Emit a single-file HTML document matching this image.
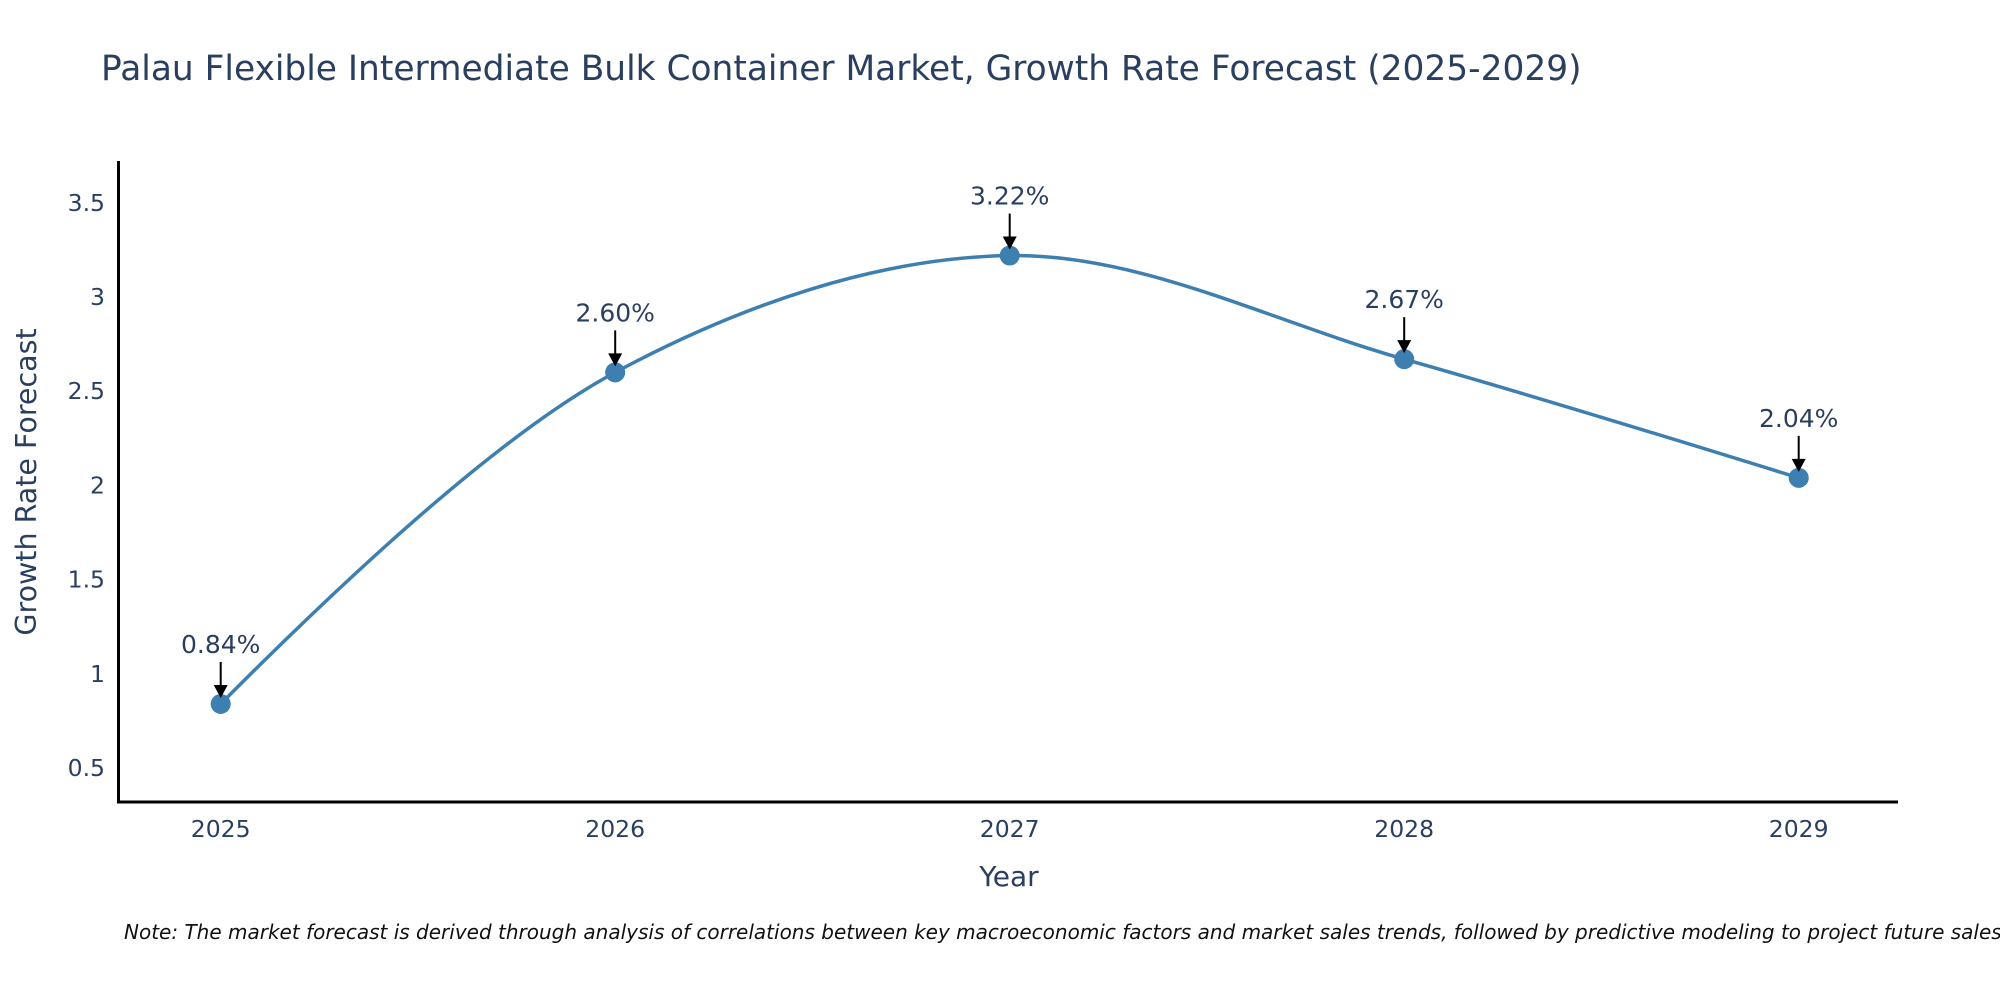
<!DOCTYPE html>
<html><head><meta charset="utf-8"><style>
body{margin:0;background:#fff}
svg text{font-family:"DejaVu Sans","Liberation Sans",sans-serif;fill:#2a3f5f}
</style></head><body>
<svg width="2000" height="1000" id="chart">
<text x="101" y="80" font-size="34.4">Palau Flexible Intermediate Bulk Container Market, Growth Rate Forecast (2025-2029)</text>
<text x="1009" y="886" font-size="28" text-anchor="middle">Year</text>
<text transform="translate(36,482) rotate(-90)" font-size="28.5" text-anchor="middle">Growth Rate Forecast</text>
<text x="124" y="939" font-size="20" font-style="italic" style="fill:#111">Note: The market forecast is derived through analysis of correlations between key macroeconomic factors and market sales trends, followed by predictive modeling to project future sales.</text>
<g id="ticks"></g>
<g id="plot"></g>
<line x1="118.5" y1="161" x2="118.5" y2="802" stroke="#000" stroke-width="3"/>
<line x1="117" y1="802" x2="1898" y2="802" stroke="#000" stroke-width="3"/>
</svg>
<script>
const years=[2025,2026,2027,2028,2029];
const values=[0.84,2.60,3.22,2.67,2.04];
const labels=["0.84%","2.60%","3.22%","2.67%","2.04%"];
const yTicks=[0.5,1,1.5,2,2.5,3,3.5];
const yTickLabels=["0.5","1","1.5","2","2.5","3","3.5"];
const NS="http://www.w3.org/2000/svg";
function xs(y){return 220.7+(y-2025)*394.5;}
function ys(v){return 768-(v-0.5)*188.4;}
function mk(t,a,p){const e=document.createElementNS(NS,t);for(const k in a)e.setAttribute(k,a[k]);p.appendChild(e);return e;}
const tk=document.getElementById('ticks'),pl=document.getElementById('plot');
yTicks.forEach((v,i)=>{const t=mk('text',{x:105,y:ys(v)+8,'font-size':23.5,'text-anchor':'end'},tk);t.textContent=yTickLabels[i];

});
years.forEach(y=>{const t=mk('text',{x:xs(y),y:837,'font-size':23.5,'text-anchor':'middle'},tk);t.textContent=String(y);

});
const P=years.map((y,i)=>[xs(y),ys(values[i])]);
function tangent(a,b,c,sm){
  const d1x=a[0]-b[0],d1y=a[1]-b[1],d2x=c[0]-b[0],d2y=c[1]-b[1];
  const d1a=Math.pow(d1x*d1x+d1y*d1y,0.25),d2a=Math.pow(d2x*d2x+d2y*d2y,0.25);
  const nx=(d2a*d2a*d1x-d1a*d1a*d2x)*sm,ny=(d2a*d2a*d1y-d1a*d1a*d2y)*sm;
  const den1=3*d2a*(d1a+d2a),den2=3*d1a*(d1a+d2a);
  return [[b[0]+nx/den1,b[1]+ny/den1],[b[0]-nx/den2,b[1]-ny/den2]];
}
const T=[];for(let i=1;i<P.length-1;i++)T.push(tangent(P[i-1],P[i],P[i+1],1));
let d=`M${P[0]} Q${T[0][0]} ${P[1]}`;
for(let i=2;i<P.length-1;i++)d+=` C${T[i-2][1]} ${T[i-1][0]} ${P[i]}`;
d+=` Q${T[T.length-1][1]} ${P[P.length-1]}`;
const line=mk('path',{d:d,fill:'none',stroke:'#3d7fb0','stroke-width':3.5},pl);


P.forEach((p,i)=>{const c=mk('circle',{cx:p[0],cy:p[1],r:10,fill:'#3d7fb0'},pl);


const a=mk('line',{x1:p[0],y1:p[1]-42,x2:p[0],y2:p[1]-18,stroke:'#000','stroke-width':2},pl);


const h=mk('path',{d:`M${p[0]-7},${p[1]-19} L${p[0]+7},${p[1]-19} L${p[0]},${p[1]-6} Z`,fill:'#000'},pl);


const t=mk('text',{x:p[0],y:p[1]-51,'font-size':25,'text-anchor':'middle'},pl);t.textContent=labels[i];

});
</script>
</body></html>
